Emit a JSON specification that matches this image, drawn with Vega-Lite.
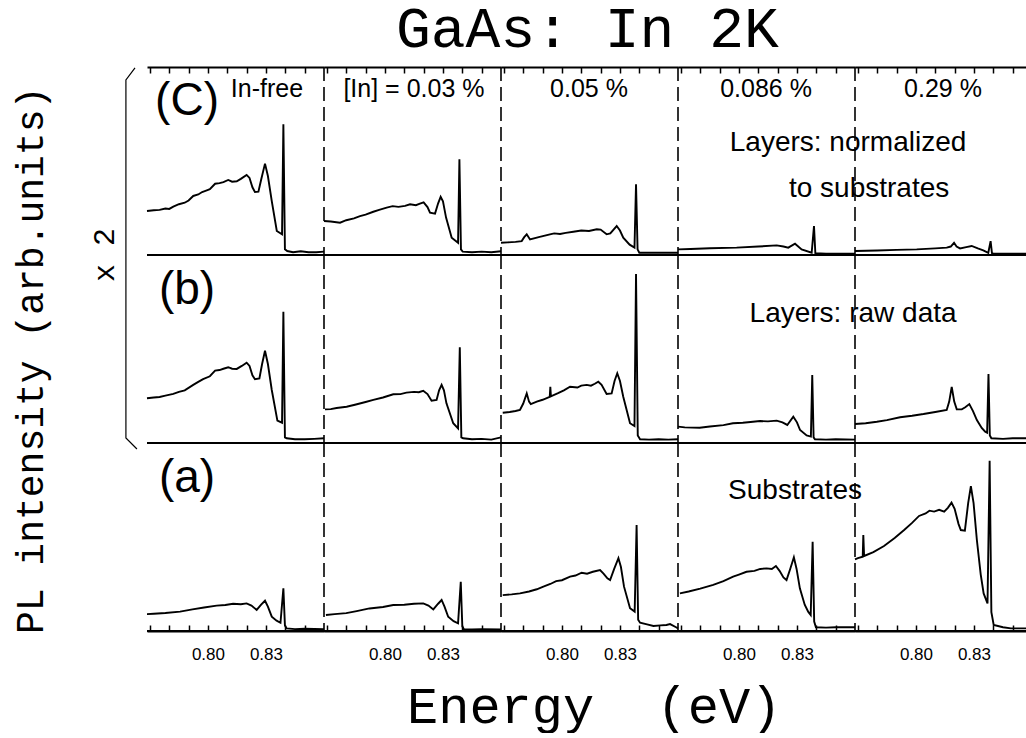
{
"$schema": "https://vega.github.io/schema/vega-lite/v6.json",
"background": "white",
"padding": {"left": 12, "top": 0, "right": 0, "bottom": 0},
"title": {"text": "GaAs: In 2K", "fontSize": 58, "font": "Liberation Mono", "fontWeight": "normal", "color": "black", "anchor": "middle", "offset": 5, "dx": 63},
"data": {"values": [
{"r":"c","c":1,"k":"f"},{"r":"c","c":2,"k":"f"},{"r":"c","c":3,"k":"f"},{"r":"c","c":4,"k":"f"},{"r":"c","c":5,"k":"f"},
{"r":"b","c":1,"k":"f"},{"r":"b","c":2,"k":"f"},{"r":"b","c":3,"k":"f"},{"r":"b","c":4,"k":"f"},{"r":"b","c":5,"k":"f"},
{"r":"a","c":1,"k":"f"},{"r":"a","c":2,"k":"f"},{"r":"a","c":3,"k":"f"},{"r":"a","c":4,"k":"f"},{"r":"a","c":5,"k":"f"},
{"r":"c","c":1,"k":"p","e":0.7892,"v":8.19,"t":"(C)"},
{"r":"b","c":1,"k":"p","e":0.7892,"v":8.14,"t":"(b)"},
{"r":"a","c":1,"k":"p","e":0.7892,"v":8.14,"t":"(a)"},
{"r":"c","c":1,"k":"t","e":0.8305,"v":8.83,"t":"In-free"},
{"r":"c","c":2,"k":"t","e":0.8150,"v":8.83,"t":"[In] = 0.03 %"},
{"r":"c","c":3,"k":"t","e":0.8140,"v":8.83,"t":"0.05 %"},
{"r":"c","c":4,"k":"t","e":0.8140,"v":8.83,"t":"0.086 %"},
{"r":"c","c":5,"k":"t","e":0.8140,"v":8.83,"t":"0.29 %"},
{"r":"c","c":4,"k":"L","e":0.8564,"v":5.96,"t":"Layers:  normalized"},
{"r":"c","c":4,"k":"L","e":0.8673,"v":3.51,"t":"to substrates"},
{"r":"b","c":4,"k":"L","e":0.8590,"v":6.86,"t":"Layers:  raw data"},
{"r":"a","c":4,"k":"L","e":0.8290,"v":7.45,"t":"Substrates"},
{"r":"c","c":1,"k":"x","e":0.7468,"v":0,"t":"x 2"},
{"r":"c","c":1,"k":"b","o":1,"e":0.7623,"v":9.95},
{"r":"c","c":1,"k":"b","o":2,"e":0.7576,"v":9.31},
{"r":"c","c":1,"k":"b","o":3,"e":0.7576,"v":-9.73},
{"r":"c","c":1,"k":"b","o":4,"e":0.7633,"v":-10.32},

{"r":"c","c":1,"k":"s","e":0.7685,"v":2.34},{"r":"c","c":1,"k":"s","e":0.7720,"v":2.38},{"r":"c","c":1,"k":"s","e":0.7750,"v":2.40},{"r":"c","c":1,"k":"s","e":0.7780,"v":2.47},{"r":"c","c":1,"k":"s","e":0.7800,"v":2.45},{"r":"c","c":1,"k":"s","e":0.7821,"v":2.57},{"r":"c","c":1,"k":"s","e":0.7850,"v":2.70},{"r":"c","c":1,"k":"s","e":0.7880,"v":2.78},{"r":"c","c":1,"k":"s","e":0.7900,"v":2.90},{"r":"c","c":1,"k":"s","e":0.7924,"v":3.14},{"r":"c","c":1,"k":"s","e":0.7950,"v":3.22},{"r":"c","c":1,"k":"s","e":0.7970,"v":3.35},{"r":"c","c":1,"k":"s","e":0.7994,"v":3.44},{"r":"c","c":1,"k":"s","e":0.8010,"v":3.50},{"r":"c","c":1,"k":"s","e":0.8037,"v":3.79},{"r":"c","c":1,"k":"s","e":0.8060,"v":3.82},{"r":"c","c":1,"k":"s","e":0.8080,"v":3.88},{"r":"c","c":1,"k":"s","e":0.8105,"v":3.99},{"r":"c","c":1,"k":"s","e":0.8125,"v":3.90},{"r":"c","c":1,"k":"s","e":0.8149,"v":3.92},{"r":"c","c":1,"k":"s","e":0.8170,"v":4.05},{"r":"c","c":1,"k":"s","e":0.8200,"v":4.26},{"r":"c","c":1,"k":"s","e":0.8215,"v":4.10},{"r":"c","c":1,"k":"s","e":0.8230,"v":3.60},{"r":"c","c":1,"k":"s","e":0.8243,"v":3.35},{"r":"c","c":1,"k":"s","e":0.8261,"v":3.37},{"r":"c","c":1,"k":"s","e":0.8275,"v":4.00},{"r":"c","c":1,"k":"s","e":0.8295,"v":4.86},{"r":"c","c":1,"k":"s","e":0.8310,"v":4.20},{"r":"c","c":1,"k":"s","e":0.8330,"v":2.87},{"r":"c","c":1,"k":"s","e":0.8356,"v":1.28},{"r":"c","c":1,"k":"s","e":0.8383,"v":1.10},{"r":"c","c":1,"k":"s","e":0.8390,"v":6.95},{"r":"c","c":1,"k":"s","e":0.8398,"v":0.30},{"r":"c","c":1,"k":"s","e":0.8410,"v":0.21},{"r":"c","c":1,"k":"s","e":0.8440,"v":0.15},{"r":"c","c":1,"k":"s","e":0.8480,"v":0.20},{"r":"c","c":1,"k":"s","e":0.8520,"v":0.15},{"r":"c","c":1,"k":"s","e":0.8560,"v":0.15},{"r":"c","c":1,"k":"s","e":0.8600,"v":0.18},

{"r":"b","c":1,"k":"s","e":0.7685,"v":2.38},{"r":"b","c":1,"k":"s","e":0.7720,"v":2.42},{"r":"b","c":1,"k":"s","e":0.7750,"v":2.45},{"r":"b","c":1,"k":"s","e":0.7780,"v":2.52},{"r":"b","c":1,"k":"s","e":0.7821,"v":2.61},{"r":"b","c":1,"k":"s","e":0.7850,"v":2.72},{"r":"b","c":1,"k":"s","e":0.7880,"v":2.80},{"r":"b","c":1,"k":"s","e":0.7924,"v":3.09},{"r":"b","c":1,"k":"s","e":0.7950,"v":3.25},{"r":"b","c":1,"k":"s","e":0.7975,"v":3.40},{"r":"b","c":1,"k":"s","e":0.8010,"v":3.55},{"r":"b","c":1,"k":"s","e":0.8037,"v":3.85},{"r":"b","c":1,"k":"s","e":0.8060,"v":3.88},{"r":"b","c":1,"k":"s","e":0.8080,"v":3.95},{"r":"b","c":1,"k":"s","e":0.8105,"v":4.03},{"r":"b","c":1,"k":"s","e":0.8125,"v":3.95},{"r":"b","c":1,"k":"s","e":0.8149,"v":3.94},{"r":"b","c":1,"k":"s","e":0.8175,"v":4.10},{"r":"b","c":1,"k":"s","e":0.8200,"v":4.27},{"r":"b","c":1,"k":"s","e":0.8215,"v":4.10},{"r":"b","c":1,"k":"s","e":0.8230,"v":3.60},{"r":"b","c":1,"k":"s","e":0.8243,"v":3.39},{"r":"b","c":1,"k":"s","e":0.8266,"v":3.44},{"r":"b","c":1,"k":"s","e":0.8280,"v":4.20},{"r":"b","c":1,"k":"s","e":0.8295,"v":4.91},{"r":"b","c":1,"k":"s","e":0.8310,"v":4.20},{"r":"b","c":1,"k":"s","e":0.8330,"v":2.82},{"r":"b","c":1,"k":"s","e":0.8359,"v":1.19},{"r":"b","c":1,"k":"s","e":0.8383,"v":1.08},{"r":"b","c":1,"k":"s","e":0.8390,"v":6.98},{"r":"b","c":1,"k":"s","e":0.8398,"v":0.30},{"r":"b","c":1,"k":"s","e":0.8407,"v":0.25},{"r":"b","c":1,"k":"s","e":0.8450,"v":0.20},{"r":"b","c":1,"k":"s","e":0.8500,"v":0.20},{"r":"b","c":1,"k":"s","e":0.8550,"v":0.22},{"r":"b","c":1,"k":"s","e":0.8600,"v":0.25},

{"r":"a","c":1,"k":"s","e":0.7685,"v":0.90},{"r":"a","c":1,"k":"s","e":0.7720,"v":0.92},{"r":"a","c":1,"k":"s","e":0.7780,"v":0.96},{"r":"a","c":1,"k":"s","e":0.7856,"v":1.03},{"r":"a","c":1,"k":"s","e":0.7920,"v":1.15},{"r":"a","c":1,"k":"s","e":0.7980,"v":1.25},{"r":"a","c":1,"k":"s","e":0.8045,"v":1.35},{"r":"a","c":1,"k":"s","e":0.8090,"v":1.38},{"r":"a","c":1,"k":"s","e":0.8130,"v":1.45},{"r":"a","c":1,"k":"s","e":0.8170,"v":1.42},{"r":"a","c":1,"k":"s","e":0.8200,"v":1.47},{"r":"a","c":1,"k":"s","e":0.8225,"v":1.35},{"r":"a","c":1,"k":"s","e":0.8252,"v":1.12},{"r":"a","c":1,"k":"s","e":0.8275,"v":1.40},{"r":"a","c":1,"k":"s","e":0.8295,"v":1.61},{"r":"a","c":1,"k":"s","e":0.8310,"v":1.30},{"r":"a","c":1,"k":"s","e":0.8330,"v":0.76},{"r":"a","c":1,"k":"s","e":0.8355,"v":0.55},{"r":"a","c":1,"k":"s","e":0.8375,"v":0.44},{"r":"a","c":1,"k":"s","e":0.8390,"v":2.27},{"r":"a","c":1,"k":"s","e":0.8398,"v":0.30},{"r":"a","c":1,"k":"s","e":0.8407,"v":0.14},{"r":"a","c":1,"k":"s","e":0.8450,"v":0.10},{"r":"a","c":1,"k":"s","e":0.8500,"v":0.12},{"r":"a","c":1,"k":"s","e":0.8600,"v":0.10},

{"r":"c","c":2,"k":"s","e":0.7685,"v":1.81},{"r":"c","c":2,"k":"s","e":0.7720,"v":1.78},{"r":"c","c":2,"k":"s","e":0.7768,"v":1.72},{"r":"c","c":2,"k":"s","e":0.7800,"v":1.85},{"r":"c","c":2,"k":"s","e":0.7840,"v":1.95},{"r":"c","c":2,"k":"s","e":0.7871,"v":2.07},{"r":"c","c":2,"k":"s","e":0.7900,"v":2.15},{"r":"c","c":2,"k":"s","e":0.7940,"v":2.30},{"r":"c","c":2,"k":"s","e":0.7970,"v":2.40},{"r":"c","c":2,"k":"s","e":0.8009,"v":2.52},{"r":"c","c":2,"k":"s","e":0.8040,"v":2.60},{"r":"c","c":2,"k":"s","e":0.8070,"v":2.56},{"r":"c","c":2,"k":"s","e":0.8104,"v":2.61},{"r":"c","c":2,"k":"s","e":0.8130,"v":2.70},{"r":"c","c":2,"k":"s","e":0.8160,"v":2.65},{"r":"c","c":2,"k":"s","e":0.8181,"v":2.73},{"r":"c","c":2,"k":"s","e":0.8200,"v":2.80},{"r":"c","c":2,"k":"s","e":0.8220,"v":2.55},{"r":"c","c":2,"k":"s","e":0.8233,"v":2.25},{"r":"c","c":2,"k":"s","e":0.8259,"v":2.20},{"r":"c","c":2,"k":"s","e":0.8275,"v":2.75},{"r":"c","c":2,"k":"s","e":0.8288,"v":3.09},{"r":"c","c":2,"k":"s","e":0.8300,"v":2.85},{"r":"c","c":2,"k":"s","e":0.8316,"v":1.99},{"r":"c","c":2,"k":"s","e":0.8345,"v":0.92},{"r":"c","c":2,"k":"s","e":0.8378,"v":0.65},{"r":"c","c":2,"k":"s","e":0.8385,"v":5.09},{"r":"c","c":2,"k":"s","e":0.8393,"v":0.30},{"r":"c","c":2,"k":"s","e":0.8402,"v":0.18},{"r":"c","c":2,"k":"s","e":0.8450,"v":0.15},{"r":"c","c":2,"k":"s","e":0.8500,"v":0.18},{"r":"c","c":2,"k":"s","e":0.8550,"v":0.15},{"r":"c","c":2,"k":"s","e":0.8600,"v":0.20},

{"r":"b","c":2,"k":"s","e":0.7690,"v":1.79},{"r":"b","c":2,"k":"s","e":0.7720,"v":1.80},{"r":"b","c":2,"k":"s","e":0.7750,"v":1.86},{"r":"b","c":2,"k":"s","e":0.7802,"v":1.93},{"r":"b","c":2,"k":"s","e":0.7850,"v":2.05},{"r":"b","c":2,"k":"s","e":0.7900,"v":2.18},{"r":"b","c":2,"k":"s","e":0.7940,"v":2.29},{"r":"b","c":2,"k":"s","e":0.7990,"v":2.42},{"r":"b","c":2,"k":"s","e":0.8043,"v":2.59},{"r":"b","c":2,"k":"s","e":0.8080,"v":2.60},{"r":"b","c":2,"k":"s","e":0.8111,"v":2.68},{"r":"b","c":2,"k":"s","e":0.8150,"v":2.72},{"r":"b","c":2,"k":"s","e":0.8175,"v":2.70},{"r":"b","c":2,"k":"s","e":0.8198,"v":2.78},{"r":"b","c":2,"k":"s","e":0.8220,"v":2.60},{"r":"b","c":2,"k":"s","e":0.8241,"v":2.25},{"r":"b","c":2,"k":"s","e":0.8267,"v":2.29},{"r":"b","c":2,"k":"s","e":0.8280,"v":2.80},{"r":"b","c":2,"k":"s","e":0.8293,"v":3.09},{"r":"b","c":2,"k":"s","e":0.8305,"v":2.80},{"r":"b","c":2,"k":"s","e":0.8318,"v":2.11},{"r":"b","c":2,"k":"s","e":0.8353,"v":1.05},{"r":"b","c":2,"k":"s","e":0.8378,"v":0.78},{"r":"b","c":2,"k":"s","e":0.8387,"v":5.09},{"r":"b","c":2,"k":"s","e":0.8395,"v":0.30},{"r":"b","c":2,"k":"s","e":0.8404,"v":0.25},{"r":"b","c":2,"k":"s","e":0.8450,"v":0.20},{"r":"b","c":2,"k":"s","e":0.8500,"v":0.22},{"r":"b","c":2,"k":"s","e":0.8550,"v":0.18},{"r":"b","c":2,"k":"s","e":0.8600,"v":0.30},

{"r":"a","c":2,"k":"s","e":0.7695,"v":0.85},{"r":"a","c":2,"k":"s","e":0.7740,"v":0.90},{"r":"a","c":2,"k":"s","e":0.7800,"v":0.95},{"r":"a","c":2,"k":"s","e":0.7854,"v":1.06},{"r":"a","c":2,"k":"s","e":0.7920,"v":1.20},{"r":"a","c":2,"k":"s","e":0.7990,"v":1.28},{"r":"a","c":2,"k":"s","e":0.8043,"v":1.38},{"r":"a","c":2,"k":"s","e":0.8100,"v":1.40},{"r":"a","c":2,"k":"s","e":0.8150,"v":1.45},{"r":"a","c":2,"k":"s","e":0.8198,"v":1.47},{"r":"a","c":2,"k":"s","e":0.8225,"v":1.35},{"r":"a","c":2,"k":"s","e":0.8250,"v":1.15},{"r":"a","c":2,"k":"s","e":0.8275,"v":1.45},{"r":"a","c":2,"k":"s","e":0.8293,"v":1.65},{"r":"a","c":2,"k":"s","e":0.8308,"v":1.30},{"r":"a","c":2,"k":"s","e":0.8327,"v":0.76},{"r":"a","c":2,"k":"s","e":0.8355,"v":0.52},{"r":"a","c":2,"k":"s","e":0.8378,"v":0.41},{"r":"a","c":2,"k":"s","e":0.8392,"v":2.62},{"r":"a","c":2,"k":"s","e":0.8400,"v":0.25},{"r":"a","c":2,"k":"s","e":0.8408,"v":0.09},{"r":"a","c":2,"k":"s","e":0.8450,"v":0.08},{"r":"a","c":2,"k":"s","e":0.8500,"v":0.10},{"r":"a","c":2,"k":"s","e":0.8600,"v":0.08},

{"r":"c","c":3,"k":"s","e":0.7685,"v":0.65},{"r":"c","c":3,"k":"s","e":0.7720,"v":0.67},{"r":"c","c":3,"k":"s","e":0.7760,"v":0.70},{"r":"c","c":3,"k":"s","e":0.7792,"v":0.74},{"r":"c","c":3,"k":"s","e":0.7805,"v":0.95},{"r":"c","c":3,"k":"s","e":0.7818,"v":1.10},{"r":"c","c":3,"k":"s","e":0.7835,"v":0.83},{"r":"c","c":3,"k":"s","e":0.7880,"v":0.95},{"r":"c","c":3,"k":"s","e":0.7938,"v":1.10},{"r":"c","c":3,"k":"s","e":0.7960,"v":1.15},{"r":"c","c":3,"k":"s","e":0.7990,"v":1.12},{"r":"c","c":3,"k":"s","e":0.8020,"v":1.18},{"r":"c","c":3,"k":"s","e":0.8059,"v":1.24},{"r":"c","c":3,"k":"s","e":0.8100,"v":1.30},{"r":"c","c":3,"k":"s","e":0.8140,"v":1.28},{"r":"c","c":3,"k":"s","e":0.8180,"v":1.37},{"r":"c","c":3,"k":"s","e":0.8200,"v":1.35},{"r":"c","c":3,"k":"s","e":0.8231,"v":1.10},{"r":"c","c":3,"k":"s","e":0.8250,"v":1.15},{"r":"c","c":3,"k":"s","e":0.8283,"v":1.54},{"r":"c","c":3,"k":"s","e":0.8300,"v":1.30},{"r":"c","c":3,"k":"s","e":0.8317,"v":0.92},{"r":"c","c":3,"k":"s","e":0.8350,"v":0.55},{"r":"c","c":3,"k":"s","e":0.8375,"v":0.39},{"r":"c","c":3,"k":"s","e":0.8383,"v":3.76},{"r":"c","c":3,"k":"s","e":0.8391,"v":0.30},{"r":"c","c":3,"k":"s","e":0.8400,"v":0.12},{"r":"c","c":3,"k":"s","e":0.8500,"v":0.12},{"r":"c","c":3,"k":"s","e":0.8600,"v":0.12},

{"r":"b","c":3,"k":"s","e":0.7694,"v":1.61},{"r":"b","c":3,"k":"s","e":0.7730,"v":1.65},{"r":"b","c":3,"k":"s","e":0.7760,"v":1.70},{"r":"b","c":3,"k":"s","e":0.7783,"v":1.76},{"r":"b","c":3,"k":"s","e":0.7800,"v":2.10},{"r":"b","c":3,"k":"s","e":0.7818,"v":2.64},{"r":"b","c":3,"k":"s","e":0.7830,"v":2.20},{"r":"b","c":3,"k":"s","e":0.7839,"v":2.07},{"r":"b","c":3,"k":"s","e":0.7870,"v":2.20},{"r":"b","c":3,"k":"s","e":0.7900,"v":2.30},{"r":"b","c":3,"k":"s","e":0.7937,"v":2.46},{"r":"b","c":3,"k":"s","e":0.7940,"v":2.99},{"r":"b","c":3,"k":"s","e":0.7943,"v":2.48},{"r":"b","c":3,"k":"s","e":0.7980,"v":2.65},{"r":"b","c":3,"k":"s","e":0.8010,"v":2.80},{"r":"b","c":3,"k":"s","e":0.8042,"v":2.99},{"r":"b","c":3,"k":"s","e":0.8080,"v":2.95},{"r":"b","c":3,"k":"s","e":0.8100,"v":3.05},{"r":"b","c":3,"k":"s","e":0.8128,"v":3.09},{"r":"b","c":3,"k":"s","e":0.8150,"v":3.05},{"r":"b","c":3,"k":"s","e":0.8170,"v":3.15},{"r":"b","c":3,"k":"s","e":0.8188,"v":3.26},{"r":"b","c":3,"k":"s","e":0.8205,"v":3.10},{"r":"b","c":3,"k":"s","e":0.8231,"v":2.61},{"r":"b","c":3,"k":"s","e":0.8257,"v":2.64},{"r":"b","c":3,"k":"s","e":0.8272,"v":3.30},{"r":"b","c":3,"k":"s","e":0.8286,"v":3.71},{"r":"b","c":3,"k":"s","e":0.8300,"v":3.30},{"r":"b","c":3,"k":"s","e":0.8317,"v":2.46},{"r":"b","c":3,"k":"s","e":0.8352,"v":1.05},{"r":"b","c":3,"k":"s","e":0.8375,"v":0.90},{"r":"b","c":3,"k":"s","e":0.8383,"v":8.99},{"r":"b","c":3,"k":"s","e":0.8392,"v":0.40},{"r":"b","c":3,"k":"s","e":0.8404,"v":0.20},{"r":"b","c":3,"k":"s","e":0.8450,"v":0.18},{"r":"b","c":3,"k":"s","e":0.8500,"v":0.20},{"r":"b","c":3,"k":"s","e":0.8550,"v":0.18},{"r":"b","c":3,"k":"s","e":0.8600,"v":0.20},

{"r":"a","c":3,"k":"s","e":0.7694,"v":1.91},{"r":"a","c":3,"k":"s","e":0.7740,"v":1.95},{"r":"a","c":3,"k":"s","e":0.7783,"v":2.00},{"r":"a","c":3,"k":"s","e":0.7830,"v":2.10},{"r":"a","c":3,"k":"s","e":0.7870,"v":2.22},{"r":"a","c":3,"k":"s","e":0.7904,"v":2.36},{"r":"a","c":3,"k":"s","e":0.7940,"v":2.50},{"r":"a","c":3,"k":"s","e":0.7970,"v":2.65},{"r":"a","c":3,"k":"s","e":0.8000,"v":2.70},{"r":"a","c":3,"k":"s","e":0.8042,"v":2.89},{"r":"a","c":3,"k":"s","e":0.8070,"v":2.95},{"r":"a","c":3,"k":"s","e":0.8102,"v":3.10},{"r":"a","c":3,"k":"s","e":0.8130,"v":3.05},{"r":"a","c":3,"k":"s","e":0.8160,"v":3.15},{"r":"a","c":3,"k":"s","e":0.8197,"v":3.24},{"r":"a","c":3,"k":"s","e":0.8215,"v":3.05},{"r":"a","c":3,"k":"s","e":0.8235,"v":2.80},{"r":"a","c":3,"k":"s","e":0.8249,"v":2.71},{"r":"a","c":3,"k":"s","e":0.8270,"v":3.30},{"r":"a","c":3,"k":"s","e":0.8292,"v":3.87},{"r":"a","c":3,"k":"s","e":0.8305,"v":3.40},{"r":"a","c":3,"k":"s","e":0.8321,"v":2.36},{"r":"a","c":3,"k":"s","e":0.8352,"v":1.21},{"r":"a","c":3,"k":"s","e":0.8376,"v":1.03},{"r":"a","c":3,"k":"s","e":0.8386,"v":5.64},{"r":"a","c":3,"k":"s","e":0.8394,"v":0.60},{"r":"a","c":3,"k":"s","e":0.8404,"v":0.44},{"r":"a","c":3,"k":"s","e":0.8440,"v":0.35},{"r":"a","c":3,"k":"s","e":0.8473,"v":0.27},{"r":"a","c":3,"k":"s","e":0.8510,"v":0.30},{"r":"a","c":3,"k":"s","e":0.8540,"v":0.32},{"r":"a","c":3,"k":"s","e":0.8559,"v":0.37},{"r":"a","c":3,"k":"s","e":0.8590,"v":0.20},{"r":"a","c":3,"k":"s","e":0.8600,"v":0.14},

{"r":"c","c":4,"k":"s","e":0.7685,"v":0.30},{"r":"c","c":4,"k":"s","e":0.7750,"v":0.32},{"r":"c","c":4,"k":"s","e":0.7850,"v":0.36},{"r":"c","c":4,"k":"s","e":0.7988,"v":0.39},{"r":"c","c":4,"k":"s","e":0.8100,"v":0.45},{"r":"c","c":4,"k":"s","e":0.8195,"v":0.51},{"r":"c","c":4,"k":"s","e":0.8230,"v":0.45},{"r":"c","c":4,"k":"s","e":0.8255,"v":0.39},{"r":"c","c":4,"k":"s","e":0.8290,"v":0.60},{"r":"c","c":4,"k":"s","e":0.8324,"v":0.30},{"r":"c","c":4,"k":"s","e":0.8376,"v":0.12},{"r":"c","c":4,"k":"s","e":0.8388,"v":1.54},{"r":"c","c":4,"k":"s","e":0.8395,"v":0.10},{"r":"c","c":4,"k":"s","e":0.8450,"v":0.07},{"r":"c","c":4,"k":"s","e":0.8600,"v":0.07},

{"r":"b","c":4,"k":"s","e":0.7685,"v":0.87},{"r":"b","c":4,"k":"s","e":0.7720,"v":0.83},{"r":"b","c":4,"k":"s","e":0.7797,"v":0.81},{"r":"b","c":4,"k":"s","e":0.7850,"v":0.88},{"r":"b","c":4,"k":"s","e":0.7920,"v":0.95},{"r":"b","c":4,"k":"s","e":0.7969,"v":1.05},{"r":"b","c":4,"k":"s","e":0.8020,"v":1.08},{"r":"b","c":4,"k":"s","e":0.8060,"v":1.12},{"r":"b","c":4,"k":"s","e":0.8109,"v":1.17},{"r":"b","c":4,"k":"s","e":0.8150,"v":1.15},{"r":"b","c":4,"k":"s","e":0.8195,"v":1.19},{"r":"b","c":4,"k":"s","e":0.8225,"v":1.10},{"r":"b","c":4,"k":"s","e":0.8250,"v":0.96},{"r":"b","c":4,"k":"s","e":0.8281,"v":1.40},{"r":"b","c":4,"k":"s","e":0.8300,"v":1.10},{"r":"b","c":4,"k":"s","e":0.8316,"v":0.69},{"r":"b","c":4,"k":"s","e":0.8350,"v":0.40},{"r":"b","c":4,"k":"s","e":0.8372,"v":0.34},{"r":"b","c":4,"k":"s","e":0.8379,"v":3.62},{"r":"b","c":4,"k":"s","e":0.8386,"v":0.30},{"r":"b","c":4,"k":"s","e":0.8393,"v":0.20},{"r":"b","c":4,"k":"s","e":0.8450,"v":0.18},{"r":"b","c":4,"k":"s","e":0.8500,"v":0.20},{"r":"b","c":4,"k":"s","e":0.8600,"v":0.18},

{"r":"a","c":4,"k":"s","e":0.7695,"v":2.00},{"r":"a","c":4,"k":"s","e":0.7740,"v":2.10},{"r":"a","c":4,"k":"s","e":0.7800,"v":2.25},{"r":"a","c":4,"k":"s","e":0.7867,"v":2.45},{"r":"a","c":4,"k":"s","e":0.7920,"v":2.65},{"r":"a","c":4,"k":"s","e":0.7970,"v":2.89},{"r":"a","c":4,"k":"s","e":0.8000,"v":3.00},{"r":"a","c":4,"k":"s","e":0.8039,"v":3.15},{"r":"a","c":4,"k":"s","e":0.8080,"v":3.20},{"r":"a","c":4,"k":"s","e":0.8110,"v":3.30},{"r":"a","c":4,"k":"s","e":0.8143,"v":3.33},{"r":"a","c":4,"k":"s","e":0.8170,"v":3.30},{"r":"a","c":4,"k":"s","e":0.8191,"v":3.46},{"r":"a","c":4,"k":"s","e":0.8210,"v":3.20},{"r":"a","c":4,"k":"s","e":0.8230,"v":2.85},{"r":"a","c":4,"k":"s","e":0.8246,"v":2.71},{"r":"a","c":4,"k":"s","e":0.8265,"v":3.30},{"r":"a","c":4,"k":"s","e":0.8284,"v":3.92},{"r":"a","c":4,"k":"s","e":0.8298,"v":3.30},{"r":"a","c":4,"k":"s","e":0.8315,"v":2.27},{"r":"a","c":4,"k":"s","e":0.8340,"v":1.40},{"r":"a","c":4,"k":"s","e":0.8358,"v":1.03},{"r":"a","c":4,"k":"s","e":0.8371,"v":0.85},{"r":"a","c":4,"k":"s","e":0.8381,"v":4.75},{"r":"a","c":4,"k":"s","e":0.8389,"v":0.50},{"r":"a","c":4,"k":"s","e":0.8398,"v":0.20},{"r":"a","c":4,"k":"s","e":0.8450,"v":0.18},{"r":"a","c":4,"k":"s","e":0.8500,"v":0.20},{"r":"a","c":4,"k":"s","e":0.8600,"v":0.20},

{"r":"c","c":5,"k":"s","e":0.7685,"v":0.21},{"r":"c","c":5,"k":"s","e":0.7800,"v":0.24},{"r":"c","c":5,"k":"s","e":0.7900,"v":0.27},{"r":"c","c":5,"k":"s","e":0.8004,"v":0.30},{"r":"c","c":5,"k":"s","e":0.8100,"v":0.35},{"r":"c","c":5,"k":"s","e":0.8159,"v":0.39},{"r":"c","c":5,"k":"s","e":0.8180,"v":0.45},{"r":"c","c":5,"k":"s","e":0.8197,"v":0.65},{"r":"c","c":5,"k":"s","e":0.8210,"v":0.45},{"r":"c","c":5,"k":"s","e":0.8228,"v":0.35},{"r":"c","c":5,"k":"s","e":0.8260,"v":0.42},{"r":"c","c":5,"k":"s","e":0.8288,"v":0.48},{"r":"c","c":5,"k":"s","e":0.8320,"v":0.35},{"r":"c","c":5,"k":"s","e":0.8348,"v":0.25},{"r":"c","c":5,"k":"s","e":0.8374,"v":0.12},{"r":"c","c":5,"k":"s","e":0.8386,"v":0.74},{"r":"c","c":5,"k":"s","e":0.8393,"v":0.10},{"r":"c","c":5,"k":"s","e":0.8400,"v":0.07},{"r":"c","c":5,"k":"s","e":0.8500,"v":0.07},{"r":"c","c":5,"k":"s","e":0.8600,"v":0.07},

{"r":"b","c":5,"k":"s","e":0.7685,"v":1.01},{"r":"b","c":5,"k":"s","e":0.7740,"v":1.05},{"r":"b","c":5,"k":"s","e":0.7798,"v":1.13},{"r":"b","c":5,"k":"s","e":0.7850,"v":1.22},{"r":"b","c":5,"k":"s","e":0.7918,"v":1.37},{"r":"b","c":5,"k":"s","e":0.7980,"v":1.45},{"r":"b","c":5,"k":"s","e":0.8039,"v":1.54},{"r":"b","c":5,"k":"s","e":0.8100,"v":1.65},{"r":"b","c":5,"k":"s","e":0.8159,"v":1.76},{"r":"b","c":5,"k":"s","e":0.8172,"v":2.20},{"r":"b","c":5,"k":"s","e":0.8185,"v":2.99},{"r":"b","c":5,"k":"s","e":0.8198,"v":2.20},{"r":"b","c":5,"k":"s","e":0.8211,"v":1.79},{"r":"b","c":5,"k":"s","e":0.8237,"v":1.79},{"r":"b","c":5,"k":"s","e":0.8255,"v":1.90},{"r":"b","c":5,"k":"s","e":0.8276,"v":2.07},{"r":"b","c":5,"k":"s","e":0.8295,"v":1.70},{"r":"b","c":5,"k":"s","e":0.8315,"v":1.22},{"r":"b","c":5,"k":"s","e":0.8340,"v":0.80},{"r":"b","c":5,"k":"s","e":0.8358,"v":0.60},{"r":"b","c":5,"k":"s","e":0.8368,"v":0.55},{"r":"b","c":5,"k":"s","e":0.8375,"v":3.67},{"r":"b","c":5,"k":"s","e":0.8382,"v":0.40},{"r":"b","c":5,"k":"s","e":0.8390,"v":0.25},{"r":"b","c":5,"k":"s","e":0.8450,"v":0.22},{"r":"b","c":5,"k":"s","e":0.8500,"v":0.25},{"r":"b","c":5,"k":"s","e":0.8600,"v":0.25},

{"r":"a","c":5,"k":"s","e":0.7685,"v":3.81},{"r":"a","c":5,"k":"s","e":0.7700,"v":3.88},{"r":"a","c":5,"k":"s","e":0.7725,"v":3.95},{"r":"a","c":5,"k":"s","e":0.7728,"v":5.11},{"r":"a","c":5,"k":"s","e":0.7732,"v":3.99},{"r":"a","c":5,"k":"s","e":0.7780,"v":4.20},{"r":"a","c":5,"k":"s","e":0.7835,"v":4.52},{"r":"a","c":5,"k":"s","e":0.7890,"v":4.95},{"r":"a","c":5,"k":"s","e":0.7939,"v":5.37},{"r":"a","c":5,"k":"s","e":0.7980,"v":5.75},{"r":"a","c":5,"k":"s","e":0.8016,"v":6.12},{"r":"a","c":5,"k":"s","e":0.8050,"v":6.25},{"r":"a","c":5,"k":"s","e":0.8070,"v":6.40},{"r":"a","c":5,"k":"s","e":0.8094,"v":6.35},{"r":"a","c":5,"k":"s","e":0.8120,"v":6.45},{"r":"a","c":5,"k":"s","e":0.8146,"v":6.35},{"r":"a","c":5,"k":"s","e":0.8165,"v":6.55},{"r":"a","c":5,"k":"s","e":0.8184,"v":6.83},{"r":"a","c":5,"k":"s","e":0.8200,"v":6.50},{"r":"a","c":5,"k":"s","e":0.8220,"v":5.70},{"r":"a","c":5,"k":"s","e":0.8232,"v":5.37},{"r":"a","c":5,"k":"s","e":0.8253,"v":5.34},{"r":"a","c":5,"k":"s","e":0.8270,"v":6.80},{"r":"a","c":5,"k":"s","e":0.8284,"v":7.71},{"r":"a","c":5,"k":"s","e":0.8298,"v":6.80},{"r":"a","c":5,"k":"s","e":0.8315,"v":4.84},{"r":"a","c":5,"k":"s","e":0.8335,"v":3.00},{"r":"a","c":5,"k":"s","e":0.8350,"v":2.00},{"r":"a","c":5,"k":"s","e":0.8370,"v":1.47},{"r":"a","c":5,"k":"s","e":0.8381,"v":9.06},{"r":"a","c":5,"k":"s","e":0.8390,"v":1.00},{"r":"a","c":5,"k":"s","e":0.8402,"v":0.32},{"r":"a","c":5,"k":"s","e":0.8450,"v":0.20},{"r":"a","c":5,"k":"s","e":0.8491,"v":0.14},{"r":"a","c":5,"k":"s","e":0.8550,"v":0.14},{"r":"a","c":5,"k":"s","e":0.8600,"v":0.14}
]},
"facet": {
  "row": {"field": "r", "type": "nominal", "sort": ["c", "b", "a"], "header": {"labels": false, "title": "PL intensity (arb.units)\u00a0\u200b", "titleFont": "Liberation Mono", "titleFontSize": 38, "titleFontWeight": "normal", "titleColor": "black", "titlePadding": 86}},
  "column": {"field": "c", "type": "ordinal", "header": {"labels": false, "title": "\u200b\u00a0\u00a0Energy\u00a0\u00a0(eV)", "titleOrient": "bottom", "titleFont": "Liberation Mono", "titleFontSize": 52, "titleFontWeight": "normal", "titleColor": "black", "titlePadding": 10}}
},
"spacing": {"row": 0, "column": 0},
"bounds": "flush",
"spec": {
  "width": 177,
  "height": 188,
  "layer": [
    {"transform": [{"filter": "datum.k == 'f'"}], "mark": {"type": "rule", "color": "black", "strokeWidth": 1.6, "strokeDash": [14, 6]}, "encoding": {"x": {"datum": 0.86, "type": "quantitative", "axis": null}}},
    {"transform": [{"filter": "datum.k == 'f'"}], "mark": {"type": "rule", "color": "black", "strokeWidth": 2}, "encoding": {"y": {"datum": 0, "type": "quantitative", "axis": null}}},
    {"transform": [{"filter": "datum.k == 's'"}], "mark": {"type": "line", "color": "black", "strokeWidth": 1.9},
     "encoding": {
       "x": {"field": "e", "type": "quantitative", "scale": {"domain": [0.7685, 0.86], "nice": false, "zero": false},
             "axis": {"orient": "bottom", "title": null, "grid": false, "values": [0.77, 0.78, 0.79, 0.8, 0.81, 0.82, 0.83, 0.84, 0.85], "tickSize": -6, "tickWidth": 1.5, "tickColor": "black", "domainColor": "black", "domainWidth": 2, "labelExpr": "(abs(datum.value - 0.8) < 0.001 || abs(datum.value - 0.83) < 0.001) ? format(datum.value, '.2f') : ''", "labelFont": "Liberation Sans", "labelFontSize": 17, "labelColor": "black", "labelPadding": 21}},
       "y": {"field": "v", "type": "quantitative", "scale": {"domain": [0, 10], "nice": false, "zero": false},
             "axis": {"orient": "left", "title": null, "grid": false, "labels": false, "values": [1, 2, 3, 4, 5, 6, 7, 8, 9], "tickSize": -6, "tickWidth": 1.5, "tickColor": "black", "domainColor": "black", "domainWidth": 2}}
     }},
    {"transform": [{"filter": "datum.k == 'b'"}], "mark": {"type": "line", "color": "black", "strokeWidth": 1.2},
     "encoding": {"x": {"field": "e", "type": "quantitative", "axis": null}, "y": {"field": "v", "type": "quantitative", "axis": null}, "order": {"field": "o", "type": "quantitative"}}},
    {"transform": [{"filter": "datum.k == 't'"}], "mark": {"type": "text", "color": "black", "font": "Liberation Sans", "fontSize": 25, "baseline": "middle", "align": "center"},
     "encoding": {
       "x": {"field": "e", "type": "quantitative", "axis": {"orient": "top", "title": null, "grid": false, "labels": false, "values": [0.77, 0.78, 0.79, 0.8, 0.81, 0.82, 0.83, 0.84, 0.85], "tickSize": -6, "tickWidth": 1.5, "tickColor": "black", "domainColor": "black", "domainWidth": 2}},
       "y": {"field": "v", "type": "quantitative", "axis": null},
       "text": {"field": "t"}}},
    {"transform": [{"filter": "datum.k == 'L'"}], "mark": {"type": "text", "color": "black", "font": "Liberation Sans", "fontSize": 28, "baseline": "middle", "align": "center"},
     "encoding": {"x": {"field": "e", "type": "quantitative", "axis": null}, "y": {"field": "v", "type": "quantitative", "axis": null}, "text": {"field": "t"}}},
    {"transform": [{"filter": "datum.k == 'p'"}], "mark": {"type": "text", "color": "black", "font": "Liberation Sans", "fontSize": 46, "baseline": "middle", "align": "center"},
     "encoding": {"x": {"field": "e", "type": "quantitative", "axis": null}, "y": {"field": "v", "type": "quantitative", "axis": null}, "text": {"field": "t"}}},
    {"transform": [{"filter": "datum.k == 'x'"}], "mark": {"type": "text", "color": "black", "font": "Liberation Mono", "fontSize": 30, "baseline": "middle", "align": "center", "angle": -90},
     "encoding": {"x": {"field": "e", "type": "quantitative", "axis": null}, "y": {"field": "v", "type": "quantitative", "axis": null}, "text": {"field": "t"}}}
  ]
},
"config": {"view": {"stroke": null}}
}
